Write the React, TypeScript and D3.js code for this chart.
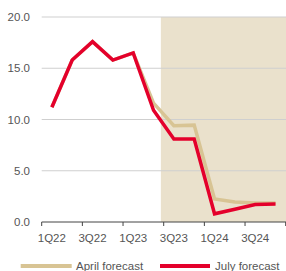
import * as d3 from "d3";

const quarters = ["1Q22", "2Q22", "3Q22", "4Q22", "1Q23", "2Q23", "3Q23", "4Q23", "1Q24", "2Q24", "3Q24", "4Q24"];
const aprilForecast = [11.2, 15.8, 17.6, 15.8, 16.5, 11.6, 9.4, 9.45, 2.25, 1.95, 1.85, 1.85];
const julyForecast = [11.2, 15.8, 17.6, 15.8, 16.5, 10.9, 8.1, 8.1, 0.8, 1.25, 1.7, 1.75];
const yTicks = [0, 5, 10, 15, 20];
const forecastStart = "3Q23";

const W = 286;
const H = 271;
const font = "'Liberation Sans', Arial, sans-serif";

export default function App() {
  const x = d3.scaleBand<string>().domain(quarters).range([41.7, 285.7]).padding(0);
  const y = d3.scaleLinear().domain([0, 20]).range([222, 17]);
  const cx = (q: string) => (x(q) as number) + x.bandwidth() / 2;

  const line = d3
    .line<number>()
    .x((_, i) => cx(quarters[i]))
    .y((d) => y(d));

  const shadeX = (x(forecastStart) as number) - x.bandwidth() * 0.14;
  const tickQs = quarters.filter((_, i) => i % 2 === 0);

  return (
    <svg width={W} height={H} style={{ position: "absolute", left: 0, top: 0 }} fontFamily={font}>
      <rect x={shadeX} y={y(20)} width={W - shadeX} height={y(0) - y(20)} fill="#EAE1CC" />
      {yTicks.filter((t) => t > 0).map((t) => (
        <line key={t} x1={41.7} x2={W} y1={y(t)} y2={y(t)} stroke="#cfcfcf" strokeWidth={1.2} />
      ))}
      {yTicks.map((t) => (
        <text key={t} x={30} y={y(t)} dy="0.35em" textAnchor="end" fontSize={11.5} fill="#555">
          {t.toFixed(1)}
        </text>
      ))}
      <line x1={41.7} x2={W} y1={y(0)} y2={y(0)} stroke="#444" strokeWidth={1} />
      {[...tickQs.map((q) => x(q) as number), 285.7].map((px, i) => (
        <line key={i} x1={px} x2={px} y1={y(0)} y2={y(0) + 4} stroke="#444" strokeWidth={1} />
      ))}
      {tickQs.map((q) => (
        <text key={q} x={cx(q)} y={238} dy="0.35em" textAnchor="middle" fontSize={11.5} fill="#555">
          {q}
        </text>
      ))}
      <path d={line(aprilForecast) ?? ""} fill="none" stroke="#D8C494" strokeWidth={3.5} />
      <path d={line(julyForecast) ?? ""} fill="none" stroke="#E4002B" strokeWidth={3.5} />
      <line x1={20.7} x2={71.7} y1={266} y2={266} stroke="#D8C494" strokeWidth={4} />
      <text x={76} y={266} dy="0.35em" fontSize={11.5} fill="#555">April forecast</text>
      <line x1={160} x2={210} y1={266} y2={266} stroke="#E4002B" strokeWidth={4} />
      <text x={215} y={266} dy="0.35em" fontSize={11.5} fill="#555">July forecast</text>
    </svg>
  );
}
